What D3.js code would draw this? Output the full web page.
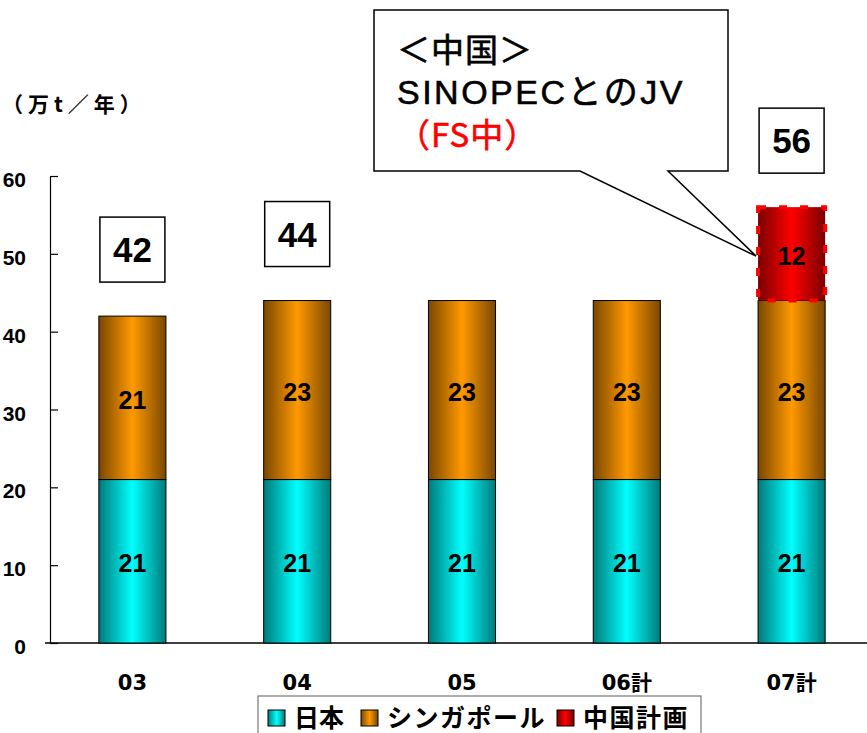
<!DOCTYPE html>
<html>
<head>
<meta charset="utf-8">
<script src="https://cdn.jsdelivr.net/npm/d3@7"></script>
<style>
  html, body { margin: 0; padding: 0; background: #fff; }
  svg { display: block; }
</style>
</head>
<body>
<svg id="chart" width="867" height="733"></svg>
<script>
// Production capacity by year (万t／年)
const categories = ["03", "04", "05", "06計", "07計"];
const japan      = [21, 21, 21, 21, 21];
const singapore  = [21, 23, 23, 23, 23];
const chinaPlan  = [0, 0, 0, 0, 12];
const totalBoxes = [42, 44, null, null, 56];   // totals shown in framed boxes
const yTicks     = [0, 10, 20, 30, 40, 50, 60];
const seriesNames = ["日本", "シンガポール", "中国計画"];
const calloutLines = ["＜中国＞", "SINOPECとのJV", "（FS中）"];
const unitLabel = "（万t／年）";

const numFont  = "'Liberation Sans', Arial, 'Noto Sans CJK JP', sans-serif";
const wideFont = "'DejaVu Sans', 'Noto Sans CJK JP', sans-serif";
const jpFont   = "'Noto Sans CJK JP', 'Liberation Sans', sans-serif";

const svg = d3.select("#chart");

const x = d3.scaleBand()
  .domain(categories)
  .range([50, 874])
  .paddingInner(0.593)
  .paddingOuter(0.2965);

const y = d3.scaleLinear().domain([0, 60]).range([643, 176]);

// Horizontal "cylinder" gradients: dark edges, bright middle
const defs = svg.append("defs");
const palettes = [
  { id: "g-japan", edge: "#007a7a", mid: "#00ffff" },
  { id: "g-sing",  edge: "#7a4800", mid: "#ff9900" },
  { id: "g-china", edge: "#7a0000", mid: "#ff0000" }
];
palettes.forEach(p => {
  const g = defs.append("linearGradient")
    .attr("id", p.id).attr("x1", "0").attr("x2", "1").attr("y1", "0").attr("y2", "0");
  g.append("stop").attr("offset", "0%").attr("stop-color", p.edge);
  g.append("stop").attr("offset", "50%").attr("stop-color", p.mid);
  g.append("stop").attr("offset", "100%").attr("stop-color", p.edge);
});

// Stack the series
const rows = categories.map((c, i) => ({
  cat: c, japan: japan[i], singapore: singapore[i], china: chinaPlan[i]
}));
const keys = ["japan", "singapore", "china"];
const stacked = d3.stack().keys(keys)(rows);

// Axes
const yAxis = d3.axisLeft(y)
  .tickValues(yTicks)
  .tickSizeInner(-8)
  .tickSizeOuter(0)
  .tickPadding(24);
const gy = svg.append("g").attr("transform", "translate(50,0)").call(yAxis);
gy.select(".domain").attr("stroke", "#000").attr("stroke-width", 1.2);
gy.selectAll(".tick line").attr("stroke", "#000").attr("stroke-width", 1.2);
gy.selectAll(".tick text")
  .attr("font-family", numFont).attr("font-weight", "bold")
  .attr("font-size", 21).attr("fill", "#000").attr("dy", "0.5em");

// Baseline across the plot
svg.append("line")
  .attr("x1", 45).attr("x2", 867)
  .attr("y1", y(0)).attr("y2", y(0))
  .attr("stroke", "#000").attr("stroke-width", 1.5);

// Category labels
svg.append("g").selectAll("text")
  .data(categories).join("text")
  .attr("x", d => x(d) + x.bandwidth() / 2)
  .attr("y", y(0) + 47)
  .attr("text-anchor", "middle")
  .attr("font-family", wideFont).attr("font-weight", "bold")
  .attr("font-size", 21).attr("fill", "#000")
  .text(d => d);

// Bars
const fills = { japan: "url(#g-japan)", singapore: "url(#g-sing)", china: "url(#g-china)" };
stacked.forEach(layer => {
  const key = layer.key;
  const g = svg.append("g");
  g.selectAll("rect")
    .data(layer.filter(d => d[1] - d[0] > 0))
    .join("rect")
    .attr("x", d => x(d.data.cat))
    .attr("width", x.bandwidth())
    .attr("y", d => y(d[1]))
    .attr("height", d => y(d[0]) - y(d[1]))
    .attr("fill", fills[key])
    .attr("stroke", key === "china" ? "#ff0000" : "#000")
    .attr("stroke-width", key === "china" ? 4 : 1)
    .attr("stroke-dasharray", key === "china" ? "8,13" : null);

  g.selectAll("text")
    .data(layer.filter(d => d[1] - d[0] > 0))
    .join("text")
    .attr("x", d => x(d.data.cat) + x.bandwidth() / 2)
    .attr("y", d => (y(d[0]) + y(d[1])) / 2 + 11)
    .attr("text-anchor", "middle")
    .attr("font-family", numFont).attr("font-weight", "bold")
    .attr("font-size", 25).attr("fill", "#000")
    .text(d => d[1] - d[0]);
});

// Framed total boxes above bars
const boxSize = 65;
const boxGap = 34;
const boxes = svg.append("g");
categories.forEach((c, i) => {
  if (totalBoxes[i] == null) return;
  const top = y(totalBoxes[i]) - boxGap - boxSize;
  const cx = x(c) + x.bandwidth() / 2;
  boxes.append("rect")
    .attr("x", cx - boxSize / 2).attr("y", top)
    .attr("width", boxSize).attr("height", boxSize)
    .attr("fill", "#fff").attr("stroke", "#000").attr("stroke-width", 1.5);
  boxes.append("text")
    .attr("x", cx).attr("y", top + boxSize / 2 + 12.5)
    .attr("text-anchor", "middle")
    .attr("font-family", numFont).attr("font-weight", "bold")
    .attr("font-size", 35).attr("fill", "#000")
    .text(totalBoxes[i]);
});

// Unit label
svg.append("text")
  .attr("x", 2).attr("y", 112)
  .attr("font-family", jpFont).attr("font-weight", "bold")
  .attr("font-size", 21).attr("letter-spacing", 5).attr("fill", "#000")
  .text(unitLabel);

// Speech-bubble callout pointing at the 2007 China segment
const tipX = x("07計") - 2, tipY = y(chinaPlan[4] + singapore[4] + japan[4]) + 49;
const bub = { l: 374, r: 728, t: 10, b: 171 };
svg.append("path")
  .attr("d", `M${bub.l},${bub.t} H${bub.r} V${bub.b} H668 L${tipX},${tipY} L580,${bub.b} H${bub.l} Z`)
  .attr("fill", "#fff").attr("stroke", "#000").attr("stroke-width", 1.5)
  .attr("stroke-linejoin", "miter");
const calloutBase = [62, 104, 147];
calloutLines.forEach((t, i) => {
  const txt = svg.append("text")
    .attr("x", 397).attr("y", calloutBase[i])
    .attr("font-family", i === 1 ? numFont : jpFont)
    .attr("font-weight", "normal")
    .attr("font-size", i === 1 ? 34 : 33)
    .attr("letter-spacing", i === 1 ? 2.5 : 1)
    .attr("fill", i === 2 ? "#ff0000" : "#000")
    .attr("stroke", i === 2 ? "#ff0000" : "#000")
    .attr("stroke-width", 0.6)
    .text(t);
});

// Legend
const legend = svg.append("g");
legend.append("rect")
  .attr("x", 258).attr("y", 696).attr("width", 443).attr("height", 50)
  .attr("fill", "#fff").attr("stroke", "#777").attr("stroke-width", 1.2);
const legendX = [268, 361, 557];
const legendFills = ["url(#g-japan)", "url(#g-sing)", "url(#g-china)"];
seriesNames.forEach((n, i) => {
  legend.append("rect")
    .attr("x", legendX[i]).attr("y", 710).attr("width", 17).attr("height", 16)
    .attr("fill", legendFills[i]).attr("stroke", "#000").attr("stroke-width", 1);
  legend.append("text")
    .attr("x", legendX[i] + 26).attr("y", 727)
    .attr("font-family", jpFont).attr("font-weight", "bold")
    .attr("font-size", 25).attr("letter-spacing", i === 0 ? 0 : 1.5).attr("fill", "#000")
    .text(n);
});
</script>
</body>
</html>
